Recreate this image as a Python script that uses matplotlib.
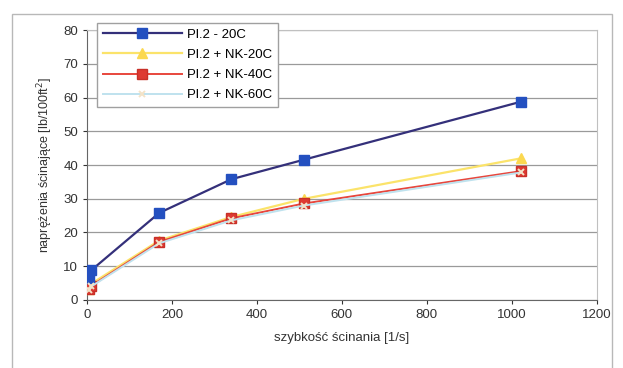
import matplotlib
matplotlib.use("Agg")
from matplotlib import pyplot as plt
from matplotlib.patches import Rectangle

plt.rcParams['font.family'] = ['Liberation Sans', 'DejaVu Sans']

# szybkosc scinania [1/s]
shear_rate = [5.1, 10.2, 170, 340, 511, 1022]

# naprezenia scinajace [lb/100ft2]
pl2_20c = [6.5, 8.8, 25.8, 35.8, 41.6, 58.8]
pl2_nk_20c = [3.2, 4.8, 17.6, 24.6, 30.0, 42.0]
pl2_nk_40c = [3.2, 4.2, 17.2, 24.2, 28.6, 38.2]
pl2_nk_60c = [3.0, 4.0, 16.8, 23.6, 28.0, 37.8]

labels = ["Pl.2 - 20C", "Pl.2 + NK-20C", "Pl.2 + NK-40C", "Pl.2 + NK-60C"]
xticks = [0, 200, 400, 600, 800, 1000, 1200]
yticks = [0, 10, 20, 30, 40, 50, 60, 70, 80]

fig = plt.figure(figsize=(6.23, 3.68), dpi=100)
ax = fig.add_axes([0.1396, 0.185, 0.8184, 0.733])

# ramka wykresu
fig.patches.append(Rectangle((12 / 623, -0.05), 600 / 623, 1 - 14 / 368 + 0.05,
                             transform=fig.transFigure, fill=False,
                             edgecolor='#b8b8b8', linewidth=1.0))

ax.plot(shear_rate, pl2_20c, color='#34307a', linewidth=1.6, marker='s',
        markersize=7, markerfacecolor='#2450c0', markeredgecolor='#2450c0',
        label=labels[0], zorder=4)
ax.plot(shear_rate, pl2_nk_20c, color='#fbe36a', linewidth=1.6, marker='^',
        markersize=7, markerfacecolor='#fbd850', markeredgecolor='#fbd850',
        label=labels[1], zorder=3)
ax.plot(shear_rate, pl2_nk_40c, color='#e8463c', linewidth=1.4, marker='s',
        markersize=7, markerfacecolor='#de3a32', markeredgecolor='#c83028',
        label=labels[2], zorder=3)
ax.plot(shear_rate, pl2_nk_60c, color='#bfe2ee', linewidth=1.4, marker='x',
        markersize=5, markeredgecolor='#f3e3c8', markeredgewidth=1.4,
        label=labels[3], zorder=5)

ax.set_xlim(0, 1200)
ax.set_ylim(0, 80)
ax.set_xticks(xticks)
ax.set_yticks(yticks)
ax.tick_params(labelsize=9.5, colors='#333333', length=3)
ax.yaxis.grid(True, color='#9a9a9a', linewidth=0.9)
ax.set_axisbelow(True)
for side in ['left', 'bottom']:
    ax.spines[side].set_color('#666666')
for side in ['top', 'right']:
    ax.spines[side].set_color('#c0c0c0')

ax.set_xlabel("szybkość ścinania [1/s]", fontsize=9.5, color='#333333', labelpad=8)
ax.set_ylabel("naprężenia ścinające [lb/100ft$^2$]", fontsize=9, color='#333333', labelpad=6)

leg = ax.legend(loc='upper left', bbox_to_anchor=(0.006, 1.052), fontsize=9.5,
                frameon=True, fancybox=False, edgecolor='#a0a0a0', framealpha=1,
                handlelength=6.0, labelspacing=0.6, borderpad=0.45, handletextpad=0.4)
leg.get_frame().set_linewidth(1.0)

fig.savefig("out.png", dpi=100, facecolor='white')
